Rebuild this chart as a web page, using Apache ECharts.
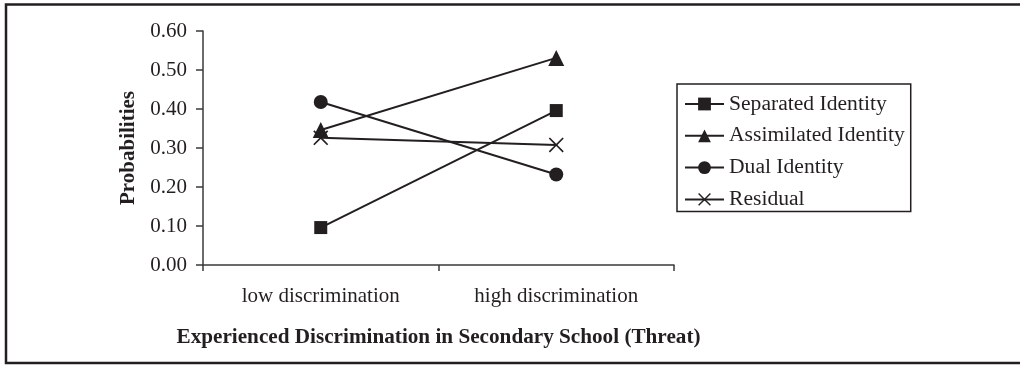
<!DOCTYPE html>
<html>
<head>
<meta charset="utf-8">
<script src="https://cdn.jsdelivr.net/npm/echarts@6/dist/echarts.min.js"></script>
<style>
html,body{margin:0;padding:0;background:#fff;}
#chart{width:1020px;height:365px;}
</style>
</head>
<body>
<div id="chart"></div>
<script>
const categories = ['low discrimination', 'high discrimination'];
const separated = [0.096, 0.396];
const assimilated = [0.346, 0.531];
const dual = [0.418, 0.232];
const residual = [0.326, 0.308];
const yTicks = [0, 0.1, 0.2, 0.3, 0.4, 0.5, 0.6];

const INK = '#231f20';
const FONT = '"Liberation Serif", "Times New Roman", serif';
const crossPath = 'path://M0,1.6L1.6,0L10,8.4L18.4,0L20,1.6L11.6,10L20,18.4L18.4,20L10,11.6L1.6,20L0,18.4L8.4,10Z';

function mk(name, data, symbol, size) {
  return {
    name: name, type: 'line', data: data,
    symbol: symbol, symbolSize: size, showSymbol: true,
    lineStyle: {color: INK, width: 2},
    itemStyle: {color: INK},
    emphasis: {disabled: true},
    z: 3
  };
}

const chart = echarts.init(document.getElementById('chart'), null, {renderer: 'canvas'});
chart.setOption({
  animation: false,
  backgroundColor: '#fff',
  textStyle: {fontFamily: FONT, color: INK},
  graphic: [{
    type: 'rect', silent: true, z: 100,
    shape: {x: 6, y: 4.5, width: 1030, height: 358.5},
    style: {fill: 'none', stroke: INK, lineWidth: 2.5}
  }],
  grid: {left: 203, right: 346, top: 31, bottom: 100, containLabel: false},
  legend: {
    orient: 'vertical', left: 677, top: 84,
    padding: [9, 6, 1, 7],
    itemWidth: 39, itemHeight: 16, itemGap: 9.8,
    borderColor: INK, borderWidth: 1.5,
    textStyle: {fontFamily: FONT, fontSize: 21.6, lineHeight: 21.5, color: INK},
    data: ['Separated Identity', 'Assimilated Identity', 'Dual Identity', 'Residual'],
    selectedMode: false
  },
  xAxis: {
    type: 'category', data: categories, boundaryGap: true,
    name: 'Experienced Discrimination in Secondary School (Threat)',
    nameLocation: 'middle', nameGap: 62,
    nameTextStyle: {fontFamily: FONT, fontSize: 21.2, fontWeight: 'bold', color: INK, lineHeight: 21},
    axisLine: {lineStyle: {color: '#3a3a3a', width: 1.5}},
    axisTick: {show: true, length: 6, lineStyle: {color: '#3a3a3a', width: 1.5}},
    axisLabel: {fontFamily: FONT, fontSize: 21, color: INK, margin: 21, lineHeight: 21},
    splitLine: {show: false}
  },
  yAxis: {
    type: 'value', min: yTicks[0], max: yTicks[yTicks.length - 1], interval: 0.1,
    name: 'Probabilities', nameLocation: 'middle', nameGap: 64, nameRotate: 90,
    nameTextStyle: {fontFamily: FONT, fontSize: 21, fontWeight: 'bold', color: INK, lineHeight: 21},
    axisLine: {show: true, lineStyle: {color: '#3a3a3a', width: 1.5}},
    axisTick: {show: true, length: 7, lineStyle: {color: '#3a3a3a', width: 1.5}},
    axisLabel: {fontFamily: FONT, fontSize: 21, color: INK, margin: 16,
      formatter: v => v.toFixed(2)},
    splitLine: {show: false}
  },
  series: [
    mk('Separated Identity', separated, 'rect', 13),
    mk('Assimilated Identity', assimilated, 'triangle', 16),
    mk('Dual Identity', dual, 'circle', 14),
    mk('Residual', residual, crossPath, 15)
  ]
});
</script>
</body>
</html>
